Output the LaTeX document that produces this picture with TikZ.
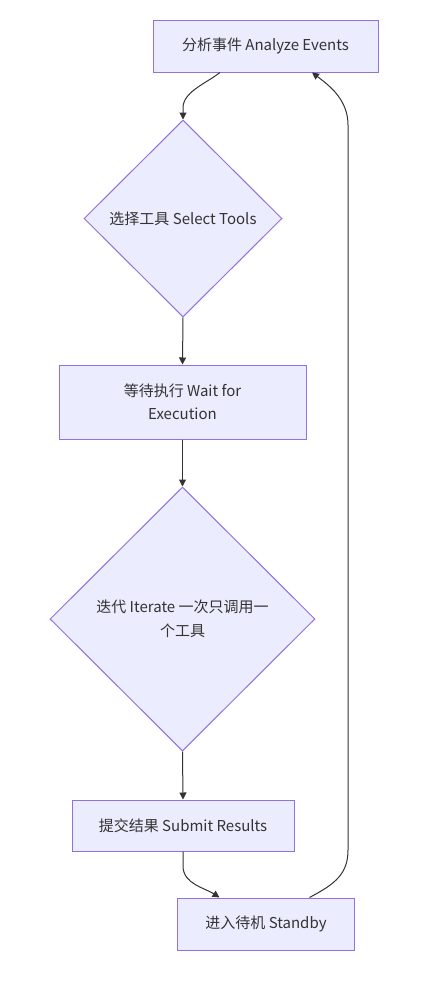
\documentclass[tikz,border=0pt]{standalone}
\usepackage{fontspec}
\setmainfont{Noto Sans CJK SC}
\usetikzlibrary{shapes.geometric,arrows.meta,calc}
\definecolor{fillc}{HTML}{ECECFF}
\definecolor{strokec}{HTML}{9370DB}
\definecolor{edgec}{HTML}{333333}
\definecolor{textc}{HTML}{333333}
\tikzset{
  box/.style={draw=strokec,fill=fillc,line width=1pt,rectangle,inner sep=0pt,align=center,text=textc,font=\fontsize{15}{23.5}\selectfont},
  dia/.style={draw=strokec,fill=fillc,line width=1pt,diamond,inner sep=0pt},
  lbl/.style={align=center,text=textc,inner sep=0pt,font=\fontsize{15}{24}\selectfont},
  edge/.style={draw=edgec,line width=1pt,-{Triangle[length=7pt,width=7pt]}}
}
\begin{document}
\begin{tikzpicture}[x=1pt,y=-1pt]
\useasboundingbox (0,0) rectangle (430,988);
\node[box,minimum width=225pt,minimum height=52pt] (n1) at (265.5,46) {分析事件 Analyze Events};
\node[dia,minimum width=198pt,minimum height=197pt] (d1) at (183,218.5) {};
\node[lbl] (d1t) at (d1.center) {选择工具 Select Tools};
\node[box,minimum width=247pt,minimum height=74pt] (n2) at (182.5,402) {等待执行 Wait for\\Execution};
\node[dia,minimum width=265pt,minimum height=264pt] (d2) at (182.5,619) {};
\node[lbl] (d2t) at (d2.center) {迭代 Iterate 一次只调用一\\个工具};
\node[box,minimum width=222pt,minimum height=51pt] (n3) at (183,825.5) {提交结果 Submit Results};
\node[box,minimum width=177pt,minimum height=52pt] (n4) at (266,924) {进入待机 Standby};

\coordinate (a1) at ($(n1.south)+(-45.5,0)$);
\coordinate (a2) at ($(n1.south)+(46.5,0)$);
\coordinate (b1) at ($(n4.north)+(-46.5,0)$);
\coordinate (b2) at ($(n4.north)+(43.5,0)$);

\draw[edge] (a1) .. controls (205,84) and (183,92) .. (183,108) -- (d1.north);
\draw[edge] (d1.south) -- (n2.north);
\draw[edge] (n2.south) -- (d2.north);
\draw[edge] (d2.south) -- (n3.north);
\draw[edge] (n3.south) -- (183,866) .. controls (183,884) and (205,888) .. (b1);
\draw[edge] (b2) .. controls (335,884) and (348,874) .. (348,850) -- (348,125) .. controls (348,100) and (330,86) .. (a2);
\end{tikzpicture}
\end{document}
